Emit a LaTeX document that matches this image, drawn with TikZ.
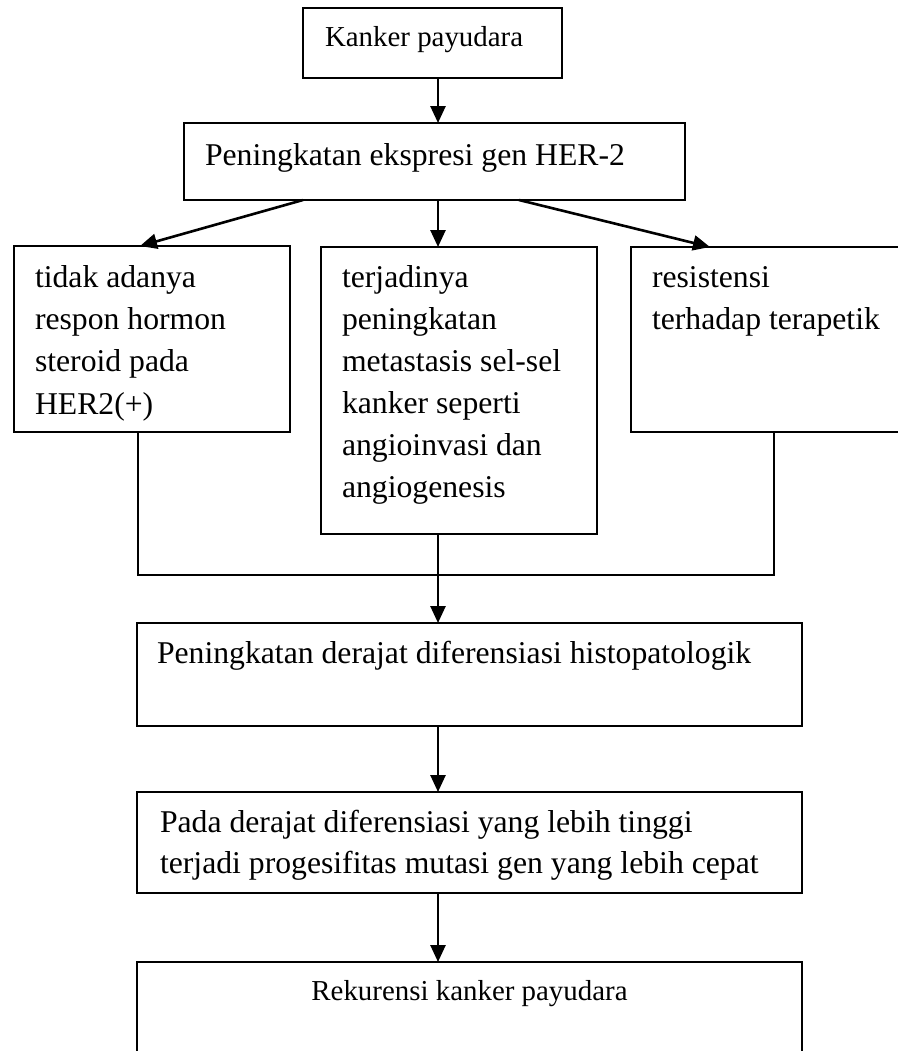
\documentclass[tikz,border=0pt]{standalone}
\usepackage{fontspec}
\setmainfont{Liberation Serif}
\usetikzlibrary{arrows.meta,calc}
\newcommand{\bxt}[5]{\begin{minipage}[t][#2][t]{#1}\raggedright\setlength{\leftskip}{#3}\rule{0pt}{#4}#5\end{minipage}}
\tikzset{
  box/.style={draw, line width=1pt, inner sep=0pt, outer sep=0pt, anchor=north west,
    font=\fontsize{15.85}{21.2}\selectfont},
  smalltext/.style={font=\fontsize{14.45}{20}\selectfont},
  arr/.style={-{Triangle[length=8.5pt,width=7.5pt]}, line width=1.3pt},
  link/.style={line width=1pt}
}
\begin{document}
\begin{tikzpicture}[x=0.5pt,y=-0.5pt]
\fill[white] (0,0) rectangle (898,1051);
\clip (0,0) rectangle (898,1051);
\node[box,smalltext] (b1) at (303,8) {\bxt{129.5pt}{35pt}{11pt}{19pt}{Kanker payudara}};
\node[box] (b2) at (184,123) {\bxt{250.5pt}{38.5pt}{10.5pt}{21pt}{Peningkatan ekspresi gen HER-2}};
\node[box] (b3) at (14,246) {\bxt{138pt}{93pt}{10.5pt}{20.5pt}{tidak adanya\\respon hormon\\steroid pada\\HER2(+)}};
\node[box,font=\fontsize{15.85}{21}\selectfont] (b4) at (321,247) {\bxt{138pt}{143.5pt}{10.5pt}{20pt}{terjadinya\\peningkatan\\metastasis sel-sel\\kanker seperti\\angioinvasi dan\\angiogenesis}};
\node[box] (b5) at (631,247) {\bxt{137pt}{92.5pt}{10.5pt}{20pt}{resistensi\\terhadap terapetik}};
\node[box] (d1) at (137,623) {\bxt{332.5pt}{51.5pt}{10pt}{20pt}{Peningkatan derajat diferensiasi histopatologik}};
\node[box,font=\fontsize{15.85}{20.5}\selectfont] (d2) at (137,792) {\bxt{332.5pt}{50.5pt}{11.5pt}{20pt}{Pada derajat diferensiasi yang lebih tinggi\\terjadi progesifitas mutasi gen yang lebih cepat}};
\node[box,smalltext] (d3) at (137,962) {\bxt{332.5pt}{49pt}{0pt}{19pt}{\centering Rekurensi kanker payudara}};
\coordinate (cx) at (438,0);
\coordinate (la) at (303,0);
\coordinate (lt) at (140,0);
\coordinate (ra) at (519,0);
\coordinate (rt) at (710,0);
\coordinate (c1) at (138,0);
\coordinate (c3) at (774,0);
\coordinate (j) at (438,575);
\draw[arr] (b1.south -| cx) -- (b2.north -| cx);
\draw[arr] (b2.south -| la) -- (b3.north -| lt);
\draw[arr] (b2.south -| cx) -- (b4.north -| cx);
\draw[arr] (b2.south -| ra) -- (b5.north -| rt);
\draw[link] (b3.south -| c1) -- (c1 |- j) -- (c3 |- j) -- (b5.south -| c3);
\draw[link] (b4.south -| cx) -- (j);
\draw[arr] (j) -- (d1.north -| cx);
\draw[arr] (d1.south -| cx) -- (d2.north -| cx);
\draw[arr] (d2.south -| cx) -- (d3.north -| cx);
\end{tikzpicture}
\end{document}
